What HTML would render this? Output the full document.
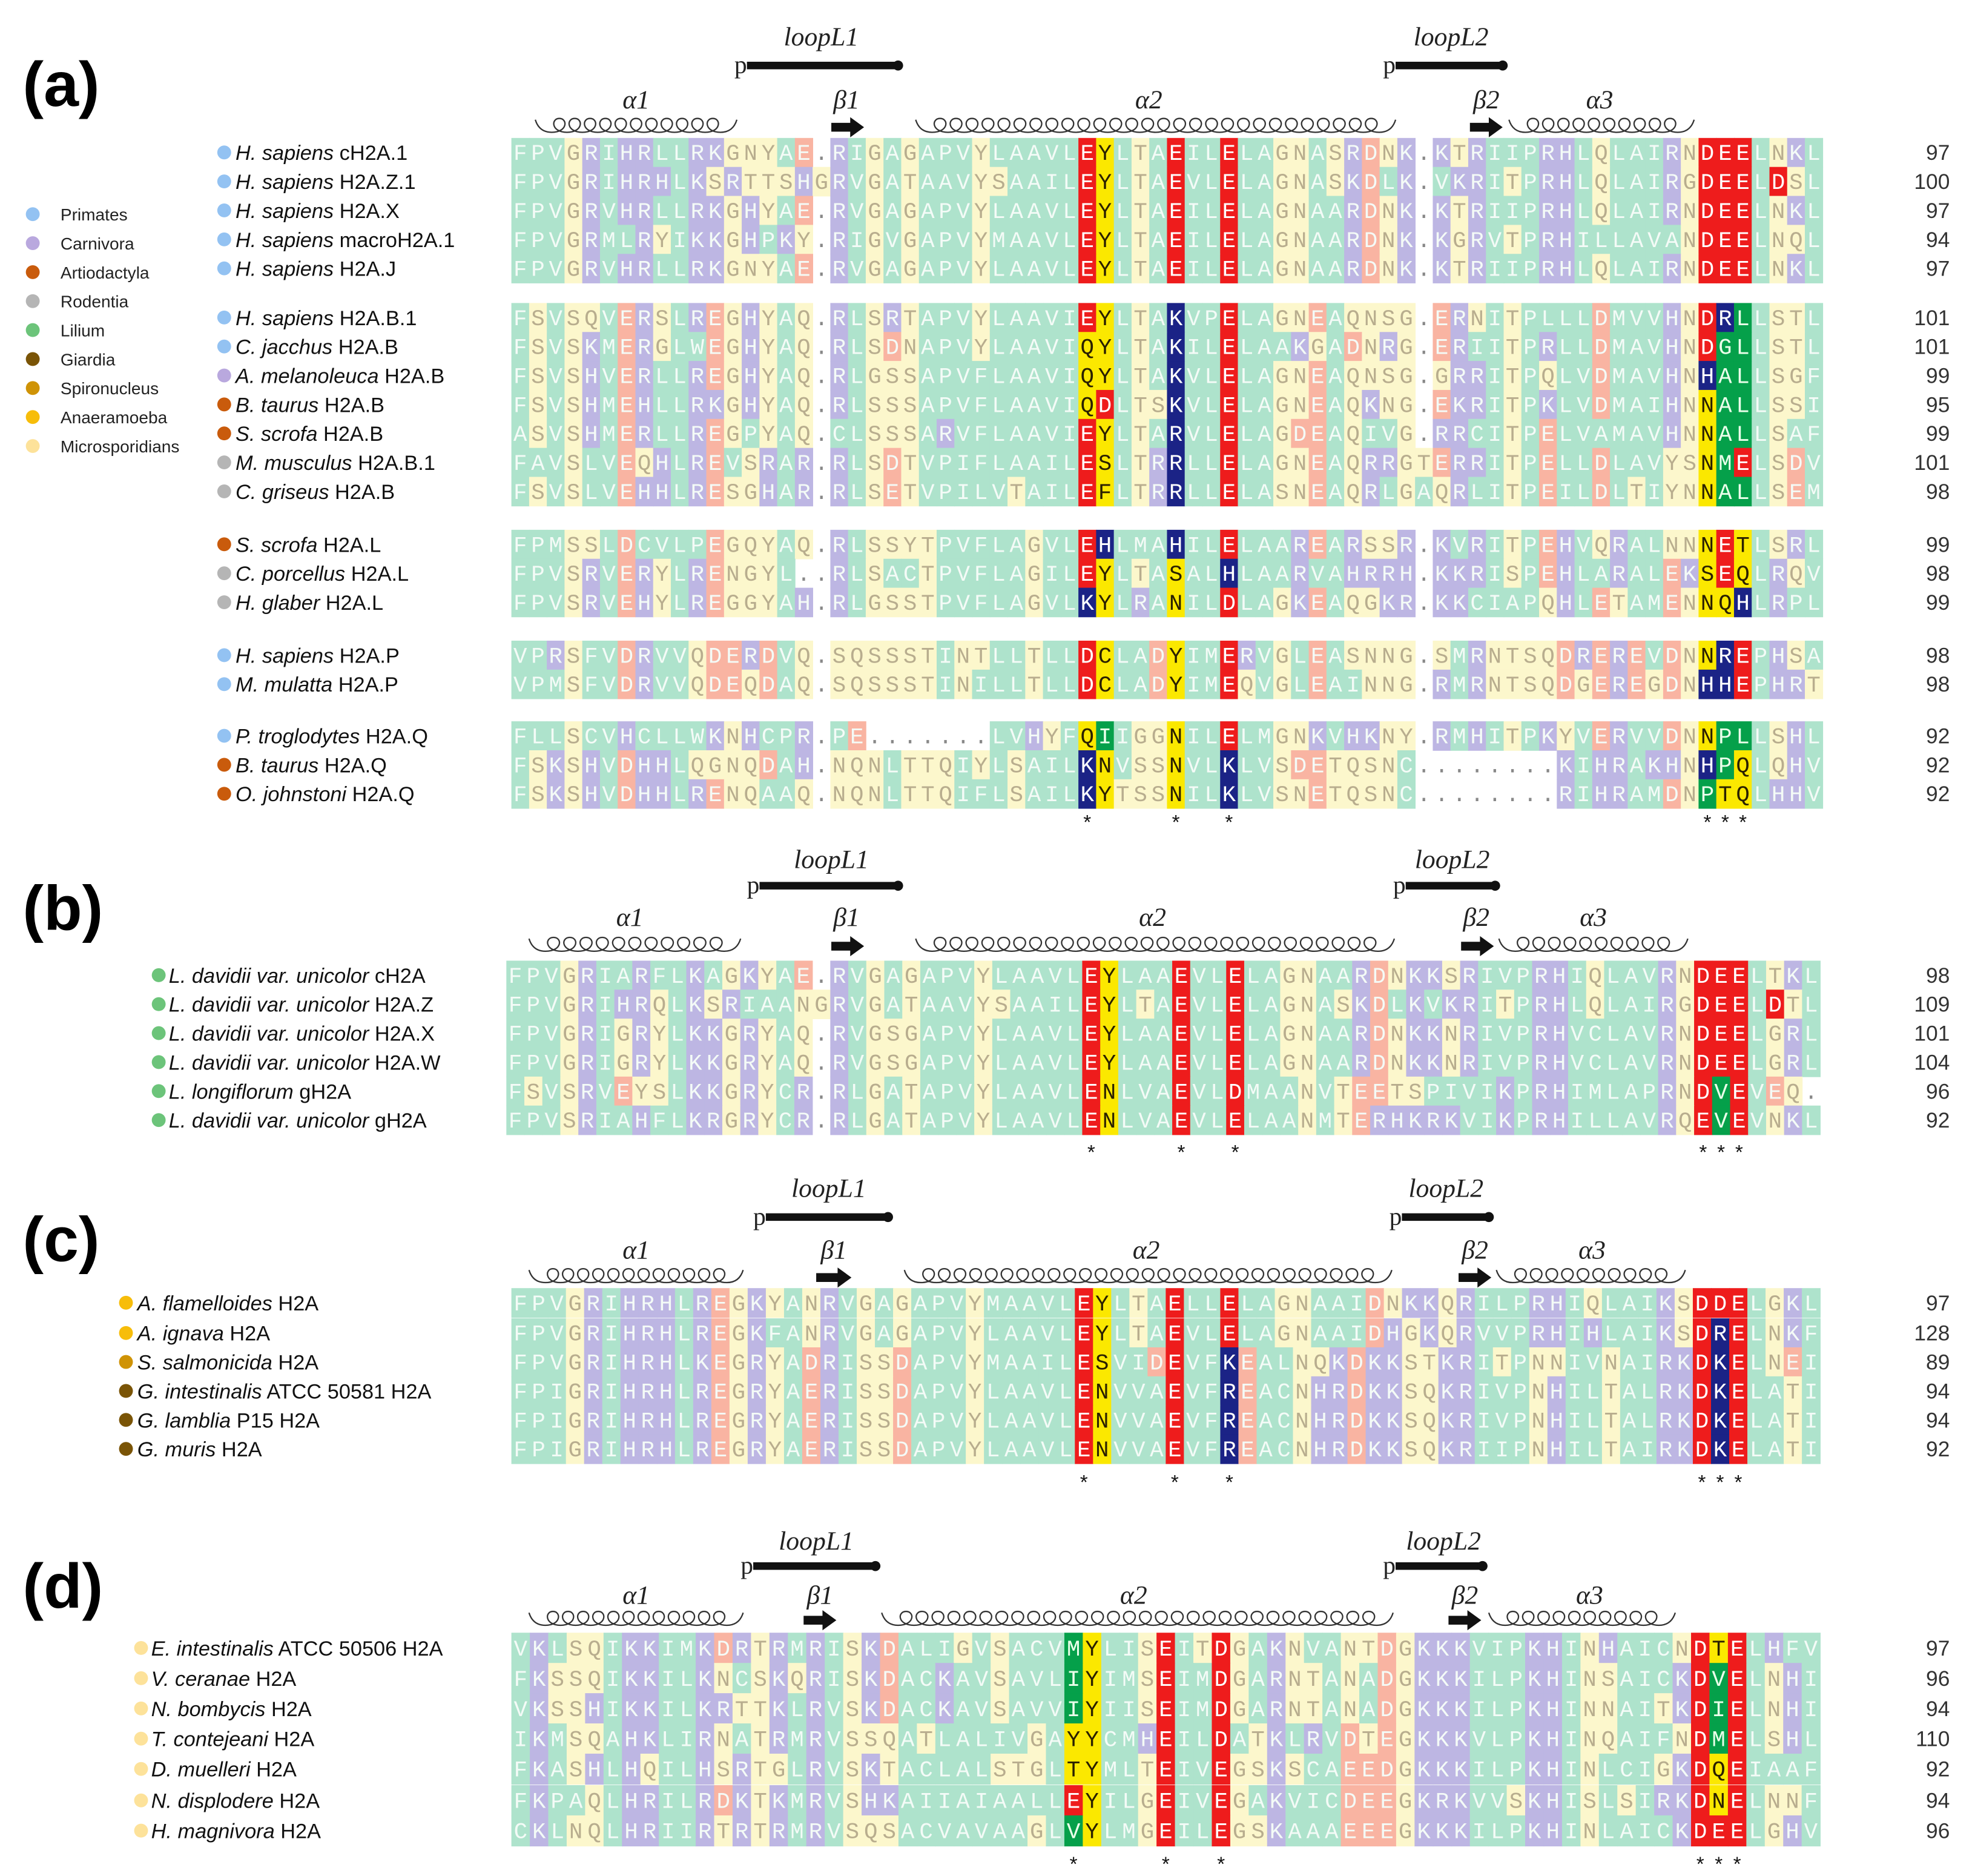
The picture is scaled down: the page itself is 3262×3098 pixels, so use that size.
<!DOCTYPE html>
<html><head><meta charset="utf-8">
<style>
html,body{margin:0;padding:0;background:#fff;}
svg{display:block;}
.nm{font-family:"Liberation Sans",Arial,sans-serif;font-size:16.5px;fill:#111;}
.lg{font-family:"Liberation Sans",Arial,sans-serif;font-size:13.5px;fill:#222;}
.res{font-family:"Liberation Mono","DejaVu Sans Mono",monospace;font-size:18px;text-anchor:middle;}
.ss{font-family:"Liberation Serif",serif;font-style:italic;font-size:21px;fill:#222;text-anchor:middle;}
.num{font-family:"Liberation Sans",Arial,sans-serif;font-size:17px;fill:#333;text-anchor:end;}
.pl{font-family:"Liberation Sans",Arial,sans-serif;font-weight:bold;font-size:50px;fill:#000;}
</style></head>
<body>
<svg id="fig" xmlns="http://www.w3.org/2000/svg" width="3262" height="3098" viewBox="0 0 1568 1489" preserveAspectRatio="none"></svg>
<script>
// ---------- data ----------
const legendLabels = ["Primates","Carnivora","Artiodactyla","Rodentia","Lilium","Giardia","Spironucleus","Anaeramoeba","Microsporidians"];
const legendColors = ["#93c2f2","#b9a8de","#c95b0c","#b5b5b5","#6cc47a","#7a5406","#cf9306","#f7bd0a","#fde29a"];

const namesA = [["H. sapiens","cH2A.1",0],["H. sapiens","H2A.Z.1",0],["H. sapiens","H2A.X",0],["H. sapiens","macroH2A.1",0],["H. sapiens","H2A.J",0],
 ["H. sapiens","H2A.B.1",0],["C. jacchus","H2A.B",0],["A. melanoleuca","H2A.B",1],["B. taurus","H2A.B",2],["S. scrofa","H2A.B",2],["M. musculus","H2A.B.1",3],["C. griseus","H2A.B",3],
 ["S. scrofa","H2A.L",2],["C. porcellus","H2A.L",3],["H. glaber","H2A.L",3],
 ["H. sapiens","H2A.P",0],["M. mulatta","H2A.P",0],
 ["P. troglodytes","H2A.Q",0],["B. taurus","H2A.Q",2],["O. johnstoni","H2A.Q",2]];
const seqA = [
 "FPVGRIHRLLRKGNYAE.RIGAGAPVYLAAVLEYLTAEILELAGNASRDNK.KTRIIPRHLQLAIRNDEELNKL",
 "FPVGRIHRHLKSRTTSHGRVGATAAVYSAAILEYLTAEVLELAGNASKDLK.VKRITPRHLQLAIRGDEELDSL",
 "FPVGRVHRLLRKGHYAE.RVGAGAPVYLAAVLEYLTAEILELAGNAARDNK.KTRIIPRHLQLAIRNDEELNKL",
 "FPVGRMLRYIKKGHPKY.RIGVGAPVYMAAVLEYLTAEILELAGNAARDNK.KGRVTPRHILLAVANDEELNQL",
 "FPVGRVHRLLRKGNYAE.RVGAGAPVYLAAVLEYLTAEILELAGNAARDNK.KTRIIPRHLQLAIRNDEELNKL",
 "FSVSQVERSLREGHYAQ.RLSRTAPVYLAAVIEYLTAKVPELAGNEAQNSG.ERNITPLLLDMVVHNDRLLSTL",
 "FSVSKMERGLWEGHYAQ.RLSDNAPVYLAAVIQYLTAKILELAAKGADNRG.ERIITPRLLDMAVHNDGLLSTL",
 "FSVSHVERLLREGHYAQ.RLGSSAPVFLAAVIQYLTAKVLELAGNEAQNSG.GRRITPQLVDMAVHNHALLSGF",
 "FSVSHMEHLLRKGHYAQ.RLSSSAPVFLAAVIQDLTSKVLELAGNEAQKNG.EKRITPKLVDMAIHNNALLSSI",
 "ASVSHMERLLREGPYAQ.CLSSSARVFLAAVIEYLTARVLELAGDEAQIVG.RRCITPELVAMAVHNNALLSAF",
 "FAVSLVEQHLREVSRAR.RLSDTVPIFLAAILESLTRRLLELAGNEAQRRGTERRITPELLDLAVYSNMELSDV",
 "FSVSLVEHHLRESGHAR.RLSETVPILVTAILEFLTRRLLELASNEAQRLGAQRLITPEILDLTIYNNALLSEM",
 "FPMSSLDCVLPEGQYAQ.RLSSYTPVFLAGVLEHLMAHILELAAREARSSR.KVRITPEHVQRALNNNETLSRL",
 "FPVSRVERYLRENGYL..RLSACTPVFLAGILEYLTASALHLAARVAHRRH.KKRISPEHLARALEKSEQLRQV",
 "FPVSRVEHYLREGGYAH.RLGSSTPVFLAGVLKYLRANILDLAGKEAQGKR.KKCIAPQHLETAMENNQHLRPL",
 "VPRSFVDRVVQDERDVQ.SQSSSTINTLLTLLDCLADYIMERVGLEASNNG.SMRNTSQDREREVDNNREPHSA",
 "VPMSFVDRVVQDEQDAQ.SQSSSTINILLTLLDCLADYIMEQVGLEAINNG.RMRNTSQDGEREGDNHHEPHRT",
 "FLLSCVHCLLWKNHCPR.PE.......LVHYFQIIGGNILELMGNKVHKNY.RMHITPKYVERVVDNNPLLSHL",
 "FSKSHVDHHLQGNQDAH.NQNLTTQIYLSAILKNVSSNVLKLVSDETQSNC........KIHRAKHNHPQLQHV",
 "FSKSHVDHHLRENQAAQ.NQNLTTQIFLSAILKYTSSNILKLVSNETQSNC........RIHRAMDNPTQLHHV"];
const numsA = [97,100,97,94,97,101,101,99,95,99,101,98,99,98,99,98,98,92,92,92];
const rowYA = [121,144,167,190,213,252,275,298,321,344,367,390,432,455,478,520,543,584,607,630];

const namesB = [["L. davidii var. unicolor","cH2A",4],["L. davidii var. unicolor","H2A.Z",4],["L. davidii var. unicolor","H2A.X",4],["L. davidii var. unicolor","H2A.W",4],["L. longiflorum","gH2A",4],["L. davidii var. unicolor","gH2A",4]];
const seqB = [
 "FPVGRIARFLKAGKYAE.RVGAGAPVYLAAVLEYLAAEVLELAGNAARDNKKSRIVPRHIQLAVRNDEELTKL",
 "FPVGRIHRQLKSRIAANGRVGATAAVYSAAILEYLTAEVLELAGNASKDLKVKRITPRHLQLAIRGDEELDTL",
 "FPVGRIGRYLKKGRYAQ.RVGSGAPVYLAAVLEYLAAEVLELAGNAARDNKKNRIVPRHVCLAVRNDEELGRL",
 "FPVGRIGRYLKKGRYAQ.RVGSGAPVYLAAVLEYLAAEVLELAGNAARDNKKNRIVPRHVCLAVRNDEELGRL",
 "FSVSRVEYSLKKGRYCR.RLGATAPVYLAAVLENLVAEVLDMAANVTEETSPIVIKPRHIMLAPRNDVEVEQ.",
 "FPVSRIAHFLKRGRYCR.RLGATAPVYLAAVLENLVAEVLELAANMTERHKRKVIKPRHILLAVRQEVEVNKL"];
const numsB = [98,109,101,104,96,92];
const rowYB = [774,797,820,843,866,889];

const namesC = [["A. flamelloides","H2A",7],["A. ignava","H2A",7],["S. salmonicida","H2A",6],["G. intestinalis","ATCC 50581 H2A",5],["G. lamblia","P15 H2A",5],["G. muris","H2A",5]];
const seqC = [
 "FPVGRIHRHLREGKYANRVGAGAPVYMAAVLEYLTAELLELAGNAAIDNKKQRILPRHIQLAIKSDDELGKL",
 "FPVGRIHRHLREGKFANRVGAGAPVYLAAVLEYLTAEVLELAGNAAIDHGKQRVVPRHIHLAIKSDRELNKF",
 "FPVGRIHRHLKEGRYADRISSDAPVYMAAILESVIDEVFKEALNQKDKKSTKRITPNNIVNAIRKDKELNEI",
 "FPIGRIHRHLREGRYAERISSDAPVYLAAVLENVVAEVFREACNHRDKKSQKRIVPNHILTALRKDKELATI",
 "FPIGRIHRHLREGRYAERISSDAPVYLAAVLENVVAEVFREACNHRDKKSQKRIVPNHILTALRKDKELATI",
 "FPIGRIHRHLREGRYAERISSDAPVYLAAVLENVVAEVFREACNHRDKKSQKRIIPNHILTAIRKDKELATI"];
const numsC = [97,128,89,94,94,92];
const rowYC = [1034,1058,1081,1104,1127,1150];

const namesD = [["E. intestinalis","ATCC 50506 H2A",8],["V. ceranae","H2A",8],["N. bombycis","H2A",8],["T. contejeani","H2A",8],["D. muelleri","H2A",8],["N. displodere","H2A",8],["H. magnivora","H2A",8]];
const seqD = [
 "VKLSQIKKIMKDRTRMRISKDALIGVSACVMYLISEITDGAKNVANTDGKKKVIPKHINHAICNDTELHFV",
 "FKSSQIKKILKNCSKQRISKDACKAVSAVLIYIMSEIMDGARNTANADGKKKILPKHINSAICKDVELNHI",
 "VKSSHIKKILKRTTKLRVSKDACKAVSAVVIYIISEIMDGARNTANADGKKKILPKHINNAITKDIELNHI",
 "IKMSQAHKLIRNATRMRVSSQATLALIVGAYYCMHEILDATKLRVDTEGKKKVLPKHINQAIFNDMELSHL",
 "FKASHLHQILHSRTGLRVSKTACLALSTGLTYMLTEIVEGSKSCAEEDGKKKILPKHINLCIGKDQEIAAF",
 "FKPAQLHRILRDKTKMRVSHKAIIAIAALLEYILGEIVEGAKVICDEEGKRKVVSKHISLSIRKDNELNNF",
 "CKLNQLHRIIRTRTRMRVSQSACVAVAAGLVYLMGEILEGSKAAAEEEGKKKILPKHINLAICKDEELGHV"];
const numsD = [97,96,94,110,92,94,96];
const rowYD = [1308,1332,1356,1380,1404,1429,1453];

// ---------- layout ----------
const panels = [
 {id:"a",names:namesA,seqs:seqA,nums:numsA,rows:rowYA,cols:74,x0:406,x1:1447,hl:[32,33,37,40,67,68,69],stars:[32,37,40,67,68,69],extra:[[1,71]],cellH:23,starY:652,
  label:[18,84],dot:178,nameX:187,
  hdr:{l1:[652,30,590,716,52],l2:[1152,30,1105,1196,52],ty:80,cy:100,a1:[505,425,585],b1:[672,660,686],a2:[912,727,1108],b2:[1180,1167,1193],a3:[1270,1198,1345]}},
 {id:"b",names:namesB,seqs:seqB,nums:numsB,rows:rowYB,cols:73,x0:402,x1:1445,hl:[32,33,37,40,66,67,68],stars:[32,37,40,66,67,68],extra:[[1,70]],cellH:23,starY:914,
  label:[18,738],dot:126,nameX:134,
  hdr:{l1:[660,683,600,716,703],l2:[1153,683,1113,1190,703],ty:729,cy:750,a1:[500,420,588],b1:[672,660,686],a2:[915,727,1107],b2:[1172,1160,1186],a3:[1265,1190,1340]}},
 {id:"c",names:namesC,seqs:seqC,nums:numsC,rows:rowYC,cols:72,x0:406,x1:1445,hl:[31,32,36,39,65,66,67],stars:[31,36,39,65,66,67],extra:[],cellH:23.2,starY:1176,
  label:[18,1001],dot:100,nameX:109,
  hdr:{l1:[658,944,605,708,966],l2:[1148,944,1110,1185,966],ty:993,cy:1013,a1:[505,420,590],b1:[662,648,676],a2:[910,718,1105],b2:[1171,1158,1184],a3:[1264,1188,1338]}},
 {id:"d",names:namesD,seqs:seqD,nums:numsD,rows:rowYD,cols:71,x0:406,x1:1445,hl:[30,31,35,38,64,65,66],stars:[30,35,38,64,65,66],extra:[],cellH:24.2,starY:1479,
  label:[18,1276],dot:112,nameX:120,
  hdr:{l1:[648,1224,595,698,1243],l2:[1146,1224,1105,1180,1243],ty:1267,cy:1285,a1:[505,420,590],b1:[651,638,664],a2:[900,700,1106],b2:[1163,1150,1176],a3:[1262,1182,1330]}}
];

const NS = "http://www.w3.org/2000/svg";
const svg = document.getElementById("fig");
function el(tag, attrs, parent){const e=document.createElementNS(NS,tag);for(const k in attrs)e.setAttribute(k,attrs[k]);(parent||svg).appendChild(e);return e;}

function bgColor(c){
  if(c===".") return null;
  if("AVLIMFWPC".includes(c)) return "#aee3cc";
  if("KRH".includes(c)) return "#bdb6e3";
  if("DE".includes(c)) return "#f9b4a2";
  return "#fcf7cc";
}
function fgColor(c){ return "#fcf7cc"===bgColor(c) ? "#b8ad8e" : "#f4fbf7"; }
function hlColor(c){
  if("DE".includes(c)) return ["#ee1c1c","#ffffff"];
  if("KRH".includes(c)) return ["#1b2386","#ffffff"];
  if("AGVLIMP".includes(c)) return ["#05a04a","#eaffea"];
  return ["#fbe800","#2a2000"];
}

// legend
const lgY0 = 170;
legendLabels.forEach((lab,i)=>{
  const g = el("g",{});
  
  
  el("circle",{cx:26,cy:lgY0+i*23,r:5.5,fill:legendColors[i]},g);
  const t = el("text",{x:48,y:lgY0+i*23+5,class:"lg"},g); t.textContent = lab;
});

function coil(g,x0,x1,y){
  const h = 11;
  let d = "M"+x0+","+(y-5)+" Q"+(x0+3)+","+(y+5)+" "+(x0+13)+","+(y+5);
  const n = Math.max(1,Math.round((x1-x0-26)/12.5));
  const step = (x1-x0-26)/n;
  let x = x0+13;
  for(let i=0;i<n;i++){
    d += " C"+(x+step*1.05)+","+(y+5)+" "+(x+step*1.05)+","+(y+5-h)+" "+(x+step*0.5)+","+(y+5-h);
    d += " C"+(x-step*0.05)+","+(y+5-h)+" "+(x-step*0.05)+","+(y+5)+" "+(x+step)+","+(y+5);
    x += step;
  }
  d += " Q"+(x1-3)+","+(y+5)+" "+x1+","+(y-5);
  el("path",{d:d,fill:"none",stroke:"#333","stroke-width":1.1},g);
}
function arrow(g,x0,x1,y){
  el("rect",{x:x0,y:y-3.5,width:x1-x0-10,height:7,fill:"#111"},g);
  el("polygon",{points:(x1-11)+","+(y-8)+" "+x1+","+y+" "+(x1-11)+","+(y+8),fill:"#111"},g);
}
function loopLine(g,lab,tx,ty,x0,x1,y){
  const t = el("text",{x:tx,y:ty+6,class:"ss"},g); t.textContent = lab;
  const p = el("text",{x:x0-7,y:y+6,style:"font-family:'Liberation Serif',serif;font-size:20px;fill:#222"},g); p.textContent = "p";
  el("rect",{x:x0+3,y:y-3,width:x1-x0-6,height:6,fill:"#111"},g);
  el("circle",{cx:x1-3,cy:y,r:4,fill:"#111"},g);
}

panels.forEach(P=>{
  const pg = el("g",{});
  
  
  const lab = el("text",{x:P.label[0],y:P.label[1],class:"pl"},pg); lab.textContent = "("+P.id+")";
  
  

  const hg = el("g",{},pg);
  
  
  const H = P.hdr;
  loopLine(hg,"loopL1",H.l1[0],H.l1[1],H.l1[2],H.l1[3],H.l1[4]);
  loopLine(hg,"loopL2",H.l2[0],H.l2[1],H.l2[2],H.l2[3],H.l2[4]);
  [["α1",H.a1],["α2",H.a2],["α3",H.a3]].forEach(([n,a])=>{
    const t=el("text",{x:a[0],y:H.ty+6,class:"ss"},hg); t.textContent=n;
    coil(hg,a[1],a[2],H.cy);
  });
  [["β1",H.b1],["β2",H.b2]].forEach(([n,a])=>{
    const t=el("text",{x:a[0],y:H.ty+6,class:"ss"},hg); t.textContent=n;
    arrow(hg,a[1],a[2],H.cy+1);
  });

  const cw = (P.x1-P.x0)/P.cols;
  const hlSet = new Set(P.hl);
  P.seqs.forEach((s,ri)=>{
    const rg = el("g",{},pg);
    
    
    const yc = P.rows[ri], top = yc - P.cellH/2;
    const nm = P.names[ri];
    el("circle",{cx:P.dot,cy:yc,r:5.5,fill:legendColors[nm[2]]},rg);
    const t = el("text",{x:P.nameX,y:yc+6,class:"nm"},rg);
    const ts1 = el("tspan",{"font-style":"italic"},t); ts1.textContent = nm[0];
    const ts2 = el("tspan",{},t); ts2.textContent = " "+nm[1];
    
    
    const seq = (s+".".repeat(P.cols)).slice(0,P.cols);
    const extras = P.extra.filter(e=>e[0]===ri).map(e=>e[1]);
    for(let i=0;i<P.cols;i++){
      const c = seq[i];
      const x = P.x0 + i*cw;
      let bg = bgColor(c), fg = c==="."?"#888":fgColor(c);
      if(c!=="." && (hlSet.has(i) || extras.includes(i))){ const h=hlColor(c); bg=h[0]; fg=h[1]; }
      if(bg){
        const r = el("rect",{x:x,y:top,width:cw+0.4,height:P.cellH+0.4,fill:bg},rg);
        
        
      }
      const tx = el("text",{x:x+cw/2,y:yc+6,class:"res",fill:fg},rg);
      tx.textContent = c;
    }
    const n = el("text",{x:1548,y:yc+6,class:"num"},rg); n.textContent = P.nums[ri];
    
    
  });
  P.stars.forEach(i=>{
    const s = el("text",{x:P.x0+(i+0.5)*cw,y:P.starY+6,style:"font-family:'Liberation Sans',sans-serif;font-size:16px;text-anchor:middle;fill:#111"},pg);
    s.textContent = "*";
    
    
  });
});
</script>
</body></html>
